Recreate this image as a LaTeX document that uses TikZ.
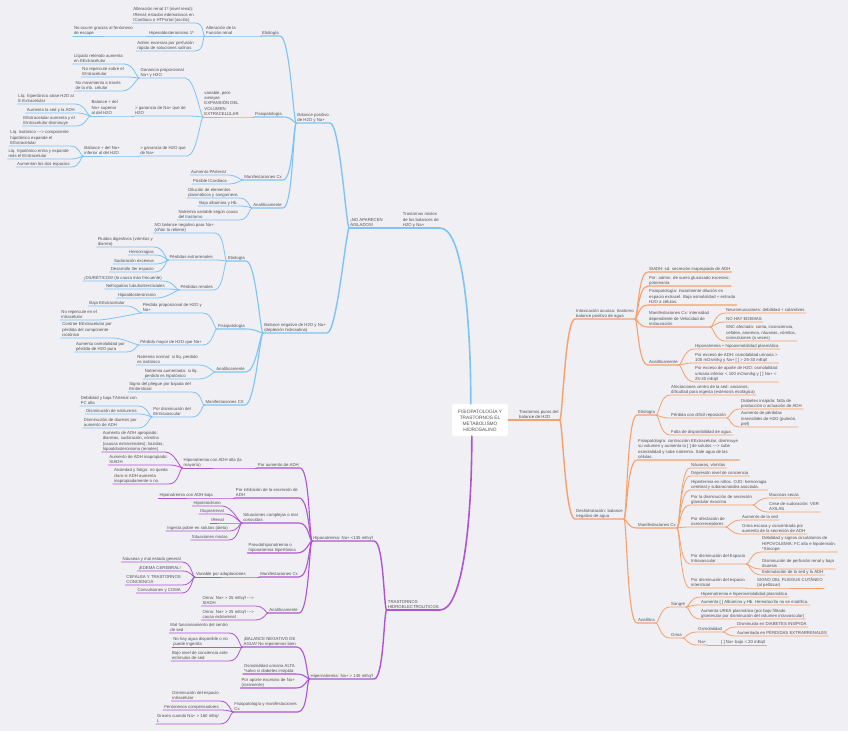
\documentclass[tikz,border=0pt]{standalone}
\usepackage{fontspec}
\setmainfont{Liberation Sans}
\definecolor{bgc}{RGB}{239,239,244}
\definecolor{ink}{RGB}{80,80,85}
\definecolor{mblue}{RGB}{125,196,245}
\definecolor{mpurple}{RGB}{176,84,212}
\definecolor{morange}{RGB}{246,160,108}
\usepackage{tikz}
\usetikzlibrary{positioning}

\begin{document}
\begin{tikzpicture}[x=1pt, y=-1pt,
  lt/.style={anchor=south east, align=left, inner xsep=1pt, inner ysep=0.7pt, text depth=0.8pt, font=\fontsize{4.3}{5.3}\selectfont, text=ink},
  rt/.style={lt, anchor=south west},
  rootbox/.style={fill=white, rounded corners=2pt, align=center, inner sep=1pt, minimum width=56pt, minimum height=32pt, font=\fontsize{4.8}{6}\selectfont, text=ink},
  lc/.style={to path={.. controls +(-3,0) and +(10,0) .. (\tikztotarget)}},
  rc/.style={to path={.. controls +(3,0) and +(-10,0) .. (\tikztotarget)}},
  bline/.style={draw=mblue, line cap=round},
  pline/.style={draw=mpurple, line cap=round},
  oline/.style={draw=morange, line cap=round}
]
\fill[bgc] (0,0) rectangle (848,731);
\useasboundingbox (0,0) rectangle (848,731);

\node[rootbox] (root) at (480,420) {FISIOPATOLOGÍA Y\\TRASTORNOS EL\\METABOLISMO\\HIDROSALINO};

% blue branch
\node[lt] (mix) at (440,228) {Trastornos mixtos\\de los balances de\\H2O y Na+};
\node[lt] (noap) at (384,228) {¡NO APARECEN\\AISLADOS!};
\node[lt] (bpos) at (330,123) {Balance positivo\\de H2O y Na+};
\node[lt] (bneg) at (327,333) {Balance negativo de H2O y Na+\\(depleción hidrosalina)};

\node[lt] (etioA) at (280,36) {Etiología};
\node[lt] (altfr) at (237,36) {Alteración de la\\Función renal};
\node[lt] (altren) at (195,23) {Alteración renal 1º (nivel renal):\\IRenal; estados edematosos en\\ICardiaca o HTPortal (ascitis)};
\node[lt] (hald) at (195,36) {Hiperaldosteronismo 1º};
\node[lt] (escape) at (134,36) {No ocurre gracias al fenómeno\\de escape};
\node[lt] (admin) at (195,51) {Admin excesiva por perfusión\\rápida de soluciones salinas};
\node[lt] (fisA) at (283,117) {Fisiopatología};
\node[lt] (expan) at (240,117) {variable, pero\\siempre\\EXPANSIÓN DEL\\VOLUMEN\\EXTRACELULAR};
\node[lt] (ganprop) at (185,78) {Ganancia proporcional\\Na+ y H2O};
\node[lt] (retiene) at (124,64) {Líquido retenido aumenta\\en EExtracelular};
\node[lt] (norepA) at (125,77) {No repercute sobre el\\EIntracelular};
\node[lt] (nomov) at (122,91) {No movimiento a través\\de la mb. celular};
\node[lt] (ganNa) at (187,116) {> ganancia de Na+ que de\\H2O};
\node[lt] (balsup) at (119,116) {Balance + del\\Na+ superior\\al del H2O};
\node[lt] (hiperton) at (75,104) {Líq. hipertónico atrae H2O al\\E.Extracelular};
\node[lt] (sed) at (76,113) {Aumenta la sed y la ADH};
\node[lt] (eeaum) at (76,126) {EExtracelular aumenta y el\\EIntracelular disminuye};
\node[lt] (ganH) at (187,156) {> ganancia de H2O que\\de Na+};
\node[lt] (balinf) at (121,156) {Balance + del Na+\\inferior al del H2O};
\node[lt] (iso) at (70,146) {Liq. isotónico -{}-{}-> componente\\hipotónico expande el\\EExtracelular};
\node[lt] (hipot) at (70,159) {Liq. hipotónico entra y expande\\más el EIntracelular};
\node[lt] (dosesp) at (71,167) {Aumentan los dos espacios};
\node[lt] (manA) at (283,180) {Manifestaciones Cx};
\node[lt] (parter) at (227,175) {Aumento PArterial};
\node[lt] (icard) at (228,184) {Posible ICardiaca};
\node[lt] (anaA) at (283,208) {Analíticamente};
\node[lt] (dilu) at (239,198) {Dilución de elementos\\plasmáticos y sanguíneos};
\node[lt] (albu) at (239,206) {Baja albúmina y Hb.};
\node[lt] (natvar) at (239,220) {Natremia variable según causa\\del trastorno};

\node[lt] (etioB) at (246,261) {Etiología};
\node[lt] (nobal) at (215,233) {NO balance negativo para Na+\\(riñón lo retiene)};
\node[lt] (pext) at (214,260) {Pérdidas extrarrenales};
\node[lt] (fluid) at (154,247) {Fluidos digestivos (vómitos y\\diarrea)};
\node[lt] (hemo) at (155,255) {Hemorragias};
\node[lt] (sudo) at (155,264) {Sudoración excesiva};
\node[lt] (tercer) at (155,272) {Desarrollo 3er espacio};
\node[lt] (pren) at (214,290) {Pérdidas renales};
\node[lt] (diur) at (163,281) {¡DIURÉTICOS! (la causa más frecuente)};
\node[lt] (nefro) at (166,289) {Nefropatías tubulointersticiales};
\node[lt] (hipoald) at (157,298) {Hipoaldosteronismo};
\node[lt] (fisB) at (246,329) {Fisiopatología};
\node[lt] (pprop) at (203,313) {Pérdida proporcional de H2O y\\Na+};
\node[lt] (bajaee) at (126,306) {Baja EExtracelular};
\node[lt] (norepB) at (98,320) {No repercute en el\\intracelular};
\node[lt] (pmay) at (203,345) {Pérdida mayor de H2O que Na+};
\node[lt] (contrae) at (113,338) {Contrae EExtracelular por\\pérdida del componente\\isotónico};
\node[lt] (osmpura) at (126,352) {Aumenta osmolalidad por\\pérdida de H2O pura};
\node[lt] (anaB) at (246,372) {Analíticamente};
\node[lt] (natnor) at (199,365) {Natremia normal: si líq. perdido\\es isotónico};
\node[lt] (nataum) at (199,379) {Natremia aumentada: si líq.\\perdido es hipotónico};
\node[lt] (manB) at (245,405) {Manifestaciones CX};
\node[lt] (pliegue) at (192,392) {Signo del pliegue por bajada del\\EIntersticial};
\node[lt] (intrav) at (192,417) {Por disminución del\\EIntravascular};
\node[lt] (debil) at (138,406) {Debilidad y baja TArterial con\\FC alta};
\node[lt] (natri) at (138,414) {Disminución de natriuresis};
\node[lt] (diure) at (138,428) {Disminución de diuresis por\\aumento de ADH};

% purple branch
\node[lt] (troh) at (440,610) {TRASTORNOS\\HIDROELECTROLITICOS};
\node[lt] (hipo) at (374,541) {Hiponatremia: Na+ <135 mEq/l};
\node[lt] (hiper) at (374,679) {Hipernatremia: Na+ > 145 mEq/l};
\node[lt] (paum) at (300,468) {Por aumento de ADH};
\node[lt] (halta) at (243,468) {Hiponatremia con ADH alta (la\\mayoría)};
\node[lt] (apro) at (165,452) {Aumento de ADH apropiado:\\diarreas, sudoración, vómitos\\(causas extrarrenales); tiazidas,\\hipoaldosteronismo (renales)};
\node[lt] (inapro) at (169,465) {Aumento de ADH inapropiado:\\SIADH};
\node[lt] (ansie) at (169,484) {Ansiedad y fatiga: no queda\\claro si ADH aumenta\\inapropiadamente o no.};
\node[lt] (pinh) at (299,498) {Por inhibición de la secreción de\\ADH};
\node[lt] (hbaja) at (214,498) {Hiponatremia con ADH baja};
\node[lt] (scomp) at (299,523) {Situaciones complejas o mal\\conocidas};
\node[lt] (tiro) at (222,506) {Hipotiroidismo};
\node[lt] (supra) at (225,514) {ISuprarrenal};
\node[lt] (irenal) at (225,523) {IRenal};
\node[lt] (ingesta) at (229,531) {Ingesta pobre en solutos (dieta)};
\node[lt] (mixtas) at (229,540) {Situaciones mixtas};
\node[lt] (pseudo) at (297,553) {Pseudohiponatremia o\\hiponatremia hipertónica};
\node[lt] (manC) at (299,577) {Manifestaciones Cx};
\node[lt] (varad) at (247,577) {Variable por adaptaciones};
\node[lt] (naus) at (182,562) {Náuseas y mal estado general};
\node[lt] (edema) at (182,571) {¡EDEMA CEREBRAL!};
\node[lt] (cefal) at (182,585) {CEFALEA Y TRASTORNOS\\CONCIENCIA};
\node[lt] (convul) at (182,593) {Convulsiones y COMA};
\node[lt] (anaC) at (299,613) {Analíticamente};
\node[lt] (orsiadh) at (255,606) {Orina: Na+ > 25 mEq/l -{}-{}->\\SIADH};
\node[lt] (orextra) at (255,620) {Orina: Na+ > 25 mEq/l -{}-{}->\\causa extrarrenal};
\node[lt] (balneg) at (297,647) {¡BALANCE NEGATIVO DE\\AGUA! No reponemos bien};
\node[lt] (malfun) at (229,633) {Mal funcionamiento del centro\\de sed};
\node[lt] (nohay) at (229,647) {No hay agua disponible o no\\puede ingerirla};
\node[lt] (bajoniv) at (229,661) {Bajo nivel de conciencia ante\\estímulos de sed};
\node[lt] (osmalta) at (296,674) {Osmolalidad urinaria ALTA\\*salvo si diabetes insípida};
\node[lt] (aporte) at (296,688) {Por aporte excesivo de Na+\\(raramente)};
\node[lt] (fisman) at (298,712) {Fisiopatología y manifestaciones\\Cx};
\node[lt] (intrac) at (220,701) {Disminución del espacio\\intracelular};
\node[lt] (compen) at (220,710) {Fenómenos compensadores};
\node[lt] (graves) at (220,724) {Graves cuando Na+ > 160 mEq/\\L};

% orange branch
\node[rt] (tpur) at (518,420) {Trastornos puros del\\balance de H2O};
\node[rt] (intox) at (575,319) {Intoxicación acuosa: trastorno\\balance positivo de agua};
\node[rt] (desh) at (575,519) {Deshidratación: balance\\negativo de agua};
\node[rt] (siadh) at (648,272) {SIADH: sd. secreción inapropiada de ADH};
\node[rt] (potom) at (648,286) {Por: admin. de suero glucosado excesivo;\\potomanía};
\node[rt] (fisC) at (648,305) {Fisiopatología: inicialmente dilución en\\espacio extracel. Baja osmolalidad + entrada\\H2O a células.};
\node[rt] (manD) at (648,327) {Manifestaciones Cx: intensidad\\dependiente de Velocidad de\\instauración};
\node[rt] (neuro) at (725,313) {Neuromusculares: debilidad + calambres};
\node[rt] (noed) at (725,322) {NO HAY EDEMAS};
\node[rt] (snc) at (725,341) {SNC afectado: coma, inconciencia,\\cefalea, anorexia, náuseas, vómitos,\\convulsiones (a veces)};
\node[rt] (anaD) at (648,365) {Analíticamente};
\node[rt] (hipoosm) at (694,349) {Hiponatremia + hipoosmolalidad plasmática};
\node[rt] (exadh) at (694,363) {Por exceso de ADH: osmolalidad urinaria >\\100 mOsm/kg y Na+ [ ] > 25-30 mEq/l};
\node[rt] (exagua) at (694,382) {Por exceso de aporte de H2O: osmolalidad\\urinaria inferior < 100 mOsm/kg y [ ] Na+ <\\25-30 mEq/l};
\node[rt] (etioC) at (637,415) {Etiología};
\node[rt] (centro) at (670,395) {Afectaciones centro de la sed: ancianos;\\dificultad para ingesta (estenosis esofágica)};
\node[rt] (dificil) at (670,418) {Pérdida con difícil reposición};
\node[rt] (diabet) at (740,409) {Diabetes insípida: falta de\\producción o actuación de ADH};
\node[rt] (insens) at (740,427) {Aumento de pérdidas\\insensibles de H2O (pulmón,\\piel)};
\node[rt] (falta) at (670,435) {Falta de disponibilidad de agua.};
\node[rt] (fisD) at (637,460) {Fisiopatología: contracción EExtracelular, disminuye\\su volumen y aumenta la [ ] de solutos -{}-{}-> sube\\osmolalidad y sube natremia. Sale agua de las\\células.};
\node[rt] (manE) at (637,528) {Manifestaciones Cx};
\node[rt] (vomit) at (690,468) {Náuseas, vómitos};
\node[rt] (depre) at (690,476) {Depresión nivel de conciencia};
\node[rt] (termia) at (690,490) {Hipertermia en niños. OJO: hemorragia\\cerebral y subaracnoidea asociada.};
\node[rt] (exocr) at (690,505) {Por la disminución de secreción\\glandular exocrina};
\node[rt] (mucos) at (768,498) {Mucosas secas};
\node[rt] (sudor) at (768,512) {Cese de sudoración: VER\\AXILAS};
\node[rt] (osmor) at (690,527) {Por afectación de\\osmorreceptores};
\node[rt] (sedA) at (741,520) {Aumento de la sed};
\node[rt] (oresc) at (741,534) {Orina escasa y concentrada por\\aumento de la secreción de ADH};
\node[rt] (evasc) at (690,564) {Por disminución del Espacio\\Intravascular};
\node[rt] (hipov) at (761,552) {Debilidad y signos circulatorios de\\HIPOVOLEMIA: FC alta e hipotensión.\\*Síncope};
\node[rt] (perfu) at (761,569) {Disminución de perfusión renal y baja\\diuresis};
\node[rt] (estim) at (761,575) {Estimulación de la sed y la ADH};
\node[rt] (einter) at (690,588) {Por disminución del espacio\\intersticial};
\node[rt] (cutan) at (756,588) {SIGNO DEL PLIEGUE CUTÁNEO\\(al pellizcar)};
\node[rt] (anaE) at (637,623) {Analítica};
\node[rt] (sangre) at (670,607) {Sangre};
\node[rt] (hiperosm) at (700,597) {Hipernatremia e hiperosmolalidad plasmática};
\node[rt] (albhb) at (700,605) {Aumenta [ ] Albúmina y Hb. Hematocrito no se modifica.};
\node[rt] (urea) at (700,619) {Aumenta UREA plasmática (por bajo filtrado\\glomerular por disminución del volumen intravascular)};
\node[rt] (orina) at (670,638) {Orina};
\node[rt] (osmol) at (697,632) {Osmolalidad};
\node[rt] (dismin) at (736,627) {Disminuida en DIABETES INSÍPIDA};
\node[rt] (aument) at (736,636) {Aumentada en PÉRDIDAS EXTRARRENALES};
\node[rt] (naorina) at (697,645) {Na+};
\node[rt] (nabajo) at (720,645) {[ ] Na+ bajo < 20 mEq/l};

% connectors
\draw[bline, line width=1.6] ([xshift=19pt]root.north west) .. controls +(0,-90) and +(22,0) .. (mix.south east) -- (mix.south west);
\draw[pline, line width=1.6] ([xshift=20pt]root.south west) .. controls +(0,90) and +(22,0) .. (troh.south east) -- (troh.south west);
\draw[oline, line width=1.6] (root.east) -- (tpur.south west) -- (tpur.south east);

\foreach \p/\c in {mix/noap, noap/bpos, noap/bneg}
  \draw[bline, line width=1.4] (\p.south west) to[lc] (\c.south east) -- (\c.south west);
\foreach \p/\c in {bpos/etioA, bpos/fisA, bpos/manA, bpos/anaA, bneg/etioB, bneg/fisB, bneg/anaB, bneg/manB}
  \draw[bline, line width=1.1] (\p.south west) to[lc] (\c.south east) -- (\c.south west);
\foreach \p/\c in {etioA/altfr, altfr/altren, altfr/hald, altfr/admin, hald/escape,
    fisA/expan, expan/ganprop, expan/ganNa, expan/ganH, ganprop/retiene, ganprop/norepA, ganprop/nomov,
    ganNa/balsup, balsup/hiperton, balsup/sed, balsup/eeaum, ganH/balinf, balinf/iso, balinf/hipot, balinf/dosesp,
    manA/parter, manA/icard, anaA/dilu, anaA/albu, anaA/natvar,
    etioB/nobal, etioB/pext, etioB/pren, pext/fluid, pext/hemo, pext/sudo, pext/tercer,
    pren/diur, pren/nefro, pren/hipoald, fisB/pprop, fisB/pmay, pprop/bajaee, pprop/norepB,
    pmay/contrae, pmay/osmpura, anaB/natnor, anaB/nataum, manB/pliegue, manB/intrav,
    intrav/debil, intrav/natri, intrav/diure}
  \draw[bline, line width=0.8] (\p.south west) to[lc] (\c.south east) -- (\c.south west);

\foreach \p/\c in {troh/hipo, troh/hiper}
  \draw[pline, line width=1.4] (\p.south west) to[lc] (\c.south east) -- (\c.south west);
\foreach \p/\c in {hipo/paum, hipo/pinh, hipo/scomp, hipo/pseudo, hipo/manC, hipo/anaC,
    hiper/balneg, hiper/osmalta, hiper/aporte, hiper/fisman}
  \draw[pline, line width=1.1] (\p.south west) to[lc] (\c.south east) -- (\c.south west);
\foreach \p/\c in {paum/halta, halta/apro, halta/inapro, halta/ansie, pinh/hbaja,
    scomp/tiro, scomp/supra, scomp/irenal, scomp/ingesta, scomp/mixtas,
    manC/varad, varad/naus, varad/edema, varad/cefal, varad/convul, anaC/orsiadh, anaC/orextra,
    balneg/malfun, balneg/nohay, balneg/bajoniv, fisman/intrac, fisman/compen, fisman/graves}
  \draw[pline, line width=0.8] (\p.south west) to[lc] (\c.south east) -- (\c.south west);

\foreach \p/\c in {tpur/intox, tpur/desh}
  \draw[oline, line width=1.4] (\p.south east) to[rc] (\c.south west) -- (\c.south east);
\foreach \p/\c in {intox/siadh, intox/potom, intox/fisC, intox/manD, intox/anaD,
    desh/etioC, desh/fisD, desh/manE, desh/anaE}
  \draw[oline, line width=1.1] (\p.south east) to[rc] (\c.south west) -- (\c.south east);
\foreach \p/\c in {manD/neuro, manD/noed, manD/snc, anaD/hipoosm, anaD/exadh, anaD/exagua,
    etioC/centro, etioC/dificil, etioC/falta, dificil/diabet, dificil/insens,
    manE/vomit, manE/depre, manE/termia, manE/exocr, manE/osmor, manE/evasc, manE/einter,
    exocr/mucos, exocr/sudor, osmor/sedA, osmor/oresc, evasc/hipov, evasc/perfu, evasc/estim,
    einter/cutan, anaE/sangre, anaE/orina, sangre/hiperosm, sangre/albhb, sangre/urea,
    orina/osmol, orina/naorina, osmol/dismin, osmol/aument, naorina/nabajo}
  \draw[oline, line width=0.8] (\p.south east) to[rc] (\c.south west) -- (\c.south east);
\end{tikzpicture}
\end{document}
